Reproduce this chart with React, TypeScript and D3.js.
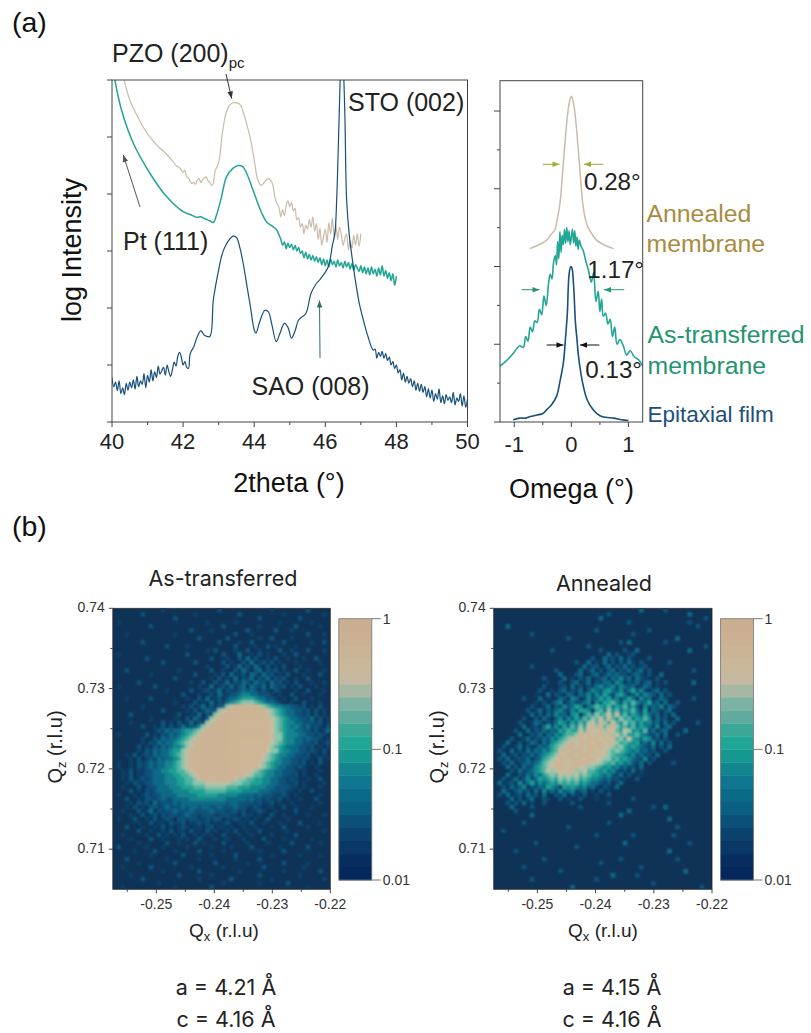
import React, { useEffect, useRef } from "react";
import * as d3 from "d3";

// 2theta scans, y is in arbitrary log units (one unit per y tick)
const annealedX = [40.34,40.5,40.7,40.9,41.1,41.3,41.5,41.7,41.8,41.9,42.0,42.05,42.1,42.15,42.2,42.25,42.3,42.35,42.4,42.45,42.5,42.55,42.6,42.65,42.7,42.75,42.8,42.85,42.9,43.0,43.1,43.2,43.3,43.4,43.5,43.6,43.7,43.8,43.9,44.0,44.1,44.2,44.3,44.4,44.5,44.6,44.7,44.75,44.8,44.85,44.9,44.95,45.0,45.05,45.1,45.15,45.2,45.25,45.3,45.35,45.4,45.45,45.5,45.55,45.6,45.65,45.7,45.75,45.8,45.85,45.9,45.95,46.0,46.05,46.1,46.15,46.2,46.25,46.3,46.35,46.4,46.45,46.5,46.55,46.6,46.65,46.7,46.75,46.8,46.85,46.9,46.95,47.0];
const annealedY = [6.0,5.65,5.38,5.15,4.97,4.83,4.72,4.58,4.5,4.46,4.38,4.42,4.3,4.28,4.22,4.18,4.21,4.17,4.24,4.27,4.2,4.25,4.28,4.3,4.23,4.2,4.15,4.19,4.4,4.55,5.05,5.4,5.55,5.6,5.6,5.57,5.42,5.2,4.95,4.6,4.25,4.15,4.22,4.27,4.2,3.9,3.75,3.6,3.72,3.62,3.8,3.88,3.78,3.85,3.7,3.75,3.55,3.58,3.42,3.48,3.3,3.45,3.38,3.55,3.42,3.6,3.35,3.48,3.2,3.4,3.1,3.25,3.38,3.15,3.5,3.3,3.58,3.22,3.45,3.2,3.42,3.3,3.1,3.22,3.3,3.02,3.18,3.05,3.28,3.1,3.3,3.08,3.3];

const transferredX = [40.08,40.27,40.6,41.07,41.54,42.0,42.2,42.38,42.5,42.6,42.75,42.85,42.94,43.08,43.22,43.4,43.55,43.68,43.79,43.92,44.07,44.2,44.35,44.5,44.63,44.7,44.75,44.8,44.85,44.9,44.95,45.0,45.05,45.1,45.15,45.2,45.25,45.3,45.35,45.4,45.45,45.5,45.55,45.6,45.65,45.7,45.75,45.8,45.85,45.9,45.95,46.0,46.05,46.1,46.15,46.2,46.25,46.3,46.35,46.4,46.45,46.5,46.55,46.6,46.65,46.7,46.75,46.8,46.85,46.9,46.95,47.0,47.05,47.1,47.15,47.2,47.25,47.3,47.35,47.4,47.45,47.5,47.55,47.6,47.65,47.7,47.75,47.8,47.85,47.9,47.95,48.0];
const transferredY = [6.0,5.47,4.89,4.36,3.95,3.69,3.64,3.59,3.6,3.57,3.53,3.5,3.63,3.95,4.3,4.45,4.5,4.48,4.36,4.15,3.89,3.68,3.51,3.44,3.37,3.28,3.2,3.1,3.16,3.04,3.14,3.06,3.12,3.02,3.1,3.0,3.06,2.96,3.0,2.88,2.98,2.86,2.94,2.84,2.92,2.82,2.9,2.8,2.88,2.76,2.86,2.74,2.84,2.72,2.86,2.76,2.82,2.72,2.84,2.74,2.8,2.7,2.82,2.72,2.8,2.68,2.78,2.66,2.76,2.7,2.64,2.74,2.62,2.72,2.6,2.7,2.58,2.72,2.6,2.68,2.56,2.7,2.58,2.74,2.56,2.66,2.52,2.62,2.48,2.6,2.4,2.56];

const epitaxialX = [40,40.05,40.1,40.15,40.2,40.25,40.3,40.35,40.4,40.45,40.5,40.55,40.6,40.65,40.7,40.75,40.8,40.85,40.9,40.95,41,41.05,41.1,41.15,41.2,41.25,41.3,41.35,41.4,41.45,41.5,41.55,41.6,41.65,41.7,41.75,41.8,41.85,41.9,41.95,42,42.05,42.1,42.15,42.2,42.3,42.4,42.5,42.6,42.75,42.85,43,43.1,43.2,43.3,43.4,43.5,43.6,43.7,43.8,43.9,44,44.05,44.15,44.3,44.4,44.5,44.62,44.72,44.85,44.95,45.05,45.15,45.25,45.45,45.6,45.75,45.85,46.08,46.2,46.27,46.32,46.36,46.4,46.43,46.47,46.51,46.55,46.6,46.67,46.75,46.83,46.95,47.07,47.2,47.35,47.4,47.45,47.5,47.55,47.6,47.65,47.7,47.75,47.8,47.85,47.9,47.95,48,48.05,48.1,48.15,48.2,48.25,48.3,48.35,48.4,48.45,48.5,48.55,48.6,48.65,48.7,48.75,48.8,48.85,48.9,48.95,49,49.05,49.1,49.15,49.2,49.25,49.3,49.35,49.4,49.45,49.5,49.55,49.6,49.65,49.7,49.75,49.8,49.85,49.9,49.95,50];
const epitaxialY = [0.78,0.62,0.7,0.55,0.72,0.5,0.6,0.48,0.68,0.56,0.7,0.6,0.74,0.58,0.8,0.62,0.72,0.66,0.85,0.6,0.82,0.7,0.92,0.72,0.88,0.78,0.98,0.84,0.9,0.96,0.82,1.0,0.88,0.8,0.92,1.05,0.98,1.15,1.22,1.14,1.0,1.06,0.96,0.94,1.2,1.32,1.5,1.6,1.52,1.5,2.14,2.67,2.95,3.1,3.2,3.26,3.24,3.05,2.75,2.37,2.0,1.62,1.56,1.75,1.96,1.93,1.7,1.41,1.55,1.73,1.66,1.47,1.6,1.79,1.9,2.26,2.43,2.5,2.72,3.1,3.31,3.9,4.7,5.6,6.2,6.6,6.2,5.4,3.9,3.31,2.9,2.55,2.1,1.79,1.5,1.26,1.28,1.12,1.22,1.15,1.24,1.12,1.2,1.08,1.14,1.0,1.06,0.94,1.0,0.86,0.92,0.74,0.86,0.7,0.8,0.68,0.76,0.62,0.72,0.56,0.68,0.54,0.66,0.52,0.62,0.44,0.58,0.42,0.56,0.36,0.5,0.4,0.58,0.34,0.46,0.32,0.48,0.38,0.44,0.34,0.52,0.3,0.42,0.36,0.5,0.28,0.46,0.26,0.4,0.16];

// Rocking curves, y in arbitrary log units
const omegaAnnealedX = [-0.73,-0.6,-0.43,-0.36,-0.29,-0.25,-0.2,-0.14,-0.07,-0.03,0,0.03,0.07,0.14,0.2,0.25,0.3,0.36,0.44,0.6,0.74];
const omegaAnnealedY = [2.23,2.27,2.34,2.41,2.47,2.6,2.81,3.33,3.93,4.13,4.19,4.13,3.93,3.33,2.81,2.6,2.49,2.42,2.34,2.27,2.23];

const omegaTransferredX = [-1.25,-1.15,-1.02,-0.96,-0.9,-0.84,-0.8,-0.76,-0.72,-0.68,-0.64,-0.6,-0.56,-0.52,-0.48,-0.44,-0.4,-0.37,-0.34,-0.31,-0.28,-0.26,-0.24,-0.22,-0.2,-0.18,-0.16,-0.14,-0.12,-0.1,-0.08,-0.06,-0.04,-0.02,0,0.02,0.04,0.06,0.08,0.1,0.12,0.14,0.17,0.21,0.25,0.3,0.35,0.39,0.43,0.47,0.5,0.53,0.56,0.6,0.64,0.68,0.72,0.76,0.8,0.85,0.91,0.97,1.03,1.1,1.18,1.25];
const omegaTransferredY = [0.72,0.78,0.88,0.94,0.98,0.96,1.1,1.04,1.22,1.16,1.3,1.28,1.45,1.38,1.62,1.5,1.78,1.9,1.84,2.06,2.14,2.02,2.32,2.1,2.45,2.18,2.4,2.28,2.48,2.3,2.5,2.32,2.46,2.28,2.38,2.48,2.3,2.46,2.26,2.38,2.22,2.34,2.26,2.2,2.08,1.95,1.8,1.92,1.55,1.68,1.42,1.58,1.36,1.4,1.26,1.32,1.1,1.22,1.0,1.06,0.98,0.86,0.92,0.84,0.8,0.72];

const omegaEpitaxialX = [-1.02,-0.9,-0.8,-0.72,-0.6,-0.5,-0.43,-0.35,-0.26,-0.2,-0.14,-0.1,-0.07,-0.04,-0.01,0.01,0.04,0.07,0.1,0.12,0.16,0.21,0.28,0.39,0.5,0.6,0.74,0.88,1];
const omegaEpitaxialY = [0.03,0.05,0.05,0.07,0.09,0.11,0.16,0.22,0.33,0.52,0.76,1.1,1.4,1.9,2.0,1.98,1.75,1.3,1.05,0.88,0.66,0.46,0.28,0.15,0.08,0.06,0.05,0.03,0.02];

// Colour bar bands, bottom to top, and the cell colours for the maps
const barBands = ["#04275c","#072d60","#093766","#0a426d","#0b5078","#0b5f82","#0c6a89","#0e768e","#12858f","#179791","#1fa695","#3aa797","#5fac9f","#7bb2a4","#a6b8a4","#c6b99f","#c9b79a","#cab496","#cab193","#c9ae90"];
const cellColors = ["#0f3356","#0e4169","#0d5279","#0e6a87","#12848e","#1ba195","#4fb4a2","#8cc4ad","#c2c0a3","#cdb596"];

const xTicksMap = [-0.25,-0.24,-0.23,-0.22];
const xMinorMap = [-0.255,-0.245,-0.235,-0.225];
const yTicksMap = [0.74,0.73,0.72,0.71];
const yMinorMap = [0.735,0.725,0.715];

// Log intensity per cell, 0 to 9
const transferredMap = [
  "000000000000100000000000002000000000000100000000200000",
  "000000020000000000001000000000020000000000100000000010",
  "000000000000000200000000000000000000200000000020000000",
  "010000000000000000000001000000100000000001000000010000",
  "000000000200000000000000000200000000100000000200000100",
  "000000000000000000020000100000000200000020001000000000",
  "000100000000000100000000000000200010000000000000200010",
  "000000000000000000000200000020000000100200001000000000",
  "000000020000000000000000002000010020000000200000010020",
  "000000000000020000100000000000200001002010000100000000",
  "000000000000000000000001020000100200100002001000200010",
  "010000000000000000200000000200030010201000100200000000",
  "000000002000000000000000200010020302001020010001002000",
  "000000000000200000002000000201002030120201000100000100",
  "000000000000000000000001000020130203102010200010000000",
  "000200000000000010000000200100203102302120100200100010",
  "000000000100000000002000010203012032031201020001000200",
  "000000000000000200000000102010302130213021200100200000",
  "000000200000000000010020020130213203220312010200010010",
  "010000000020000000000100301203023032130321201020001000",
  "000000000000010000020012013021123232121021000100200010",
  "000000000000000002000100203112234433222101002001000100",
  "000100000200000000100203012023345554332210100200010000",
  "000000000000000100002010302134567776543321001002000100",
  "000000010000000001020130212378999999876544332212010200",
  "000000000000200000102013227899999999998765433221202010",
  "000020000000000020010302178999999999998765433221202010",
  "000000000100000100203102789999999999999876543322130201",
  "000010000000201020130217899999999999999876544332221201",
  "000000020010202013122478999999999999999876543432312102",
  "000000000012132334556789999999999999999876544332212013",
  "010000002010213234567899999999999999999877544433221210",
  "000000010021323345678999999999999999999877544332322101",
  "000000010213233456789999999999999999999876544332212012",
  "000000201021323445789999999999999999998765433322120101",
  "000000102132334557899999999999999999998775443322121020",
  "000102012132334567899999999999999999987654433221201010",
  "000010201213233457899999999999999999987654332212100201",
  "010010212323344567899999999999999999876544332212010200",
  "010010212323344567899999999999999999876543322121001000",
  "001020112233445566789999999999999987654433222101000100",
  "001020112233344556678999999999999876654433221201001000",
  "001020121233344455667899999999877665544332212100100200",
  "000102112233344455667778888887776655544332211201000010",
  "001000201223334445556667777766655544443322221101000100",
  "000020102123333444455556666655554444333222211010020000",
  "010001012122333344444555554444433332322211210100000100",
  "000200102212322333344444444433333232212112010010002000",
  "000010212031222323333333333323322221211201001000000100",
  "000102010221232223233233223222322112101100200100010000",
  "001000201302122322232222322212212011210010000200000000",
  "000010020120212212322122211221102110100200100000100010",
  "010002001020121022122112122011210101002000010000000000",
  "000000100201102112011212010120011020010001000020000100",
  "000200010010201012101101201101001001000100200000100000",
  "000000200100102011020102010010200100200000010000000010",
  "001000001002010102001010100200010010000100000200000000",
  "000010000200100010100200010010001000020000100000010000",
  "000000100000020010002010000200000100001000002000000100",
  "020000001000100000100000100001000020000001000000200000",
  "000001000020000100000200000100000000100000200000000000",
  "000000000100000002000000100000200000000100000010000100",
  "000200000000010000000100000000100000200000000000000000",
  "000000100000000200000000020000000100000000200000100000",
  "001000000200000000010000000100000000020000000001000000",
  "000000000000100000000200000000010000000000100000000200",
  "000010000000000020000000100000000000200000000010000000",
  "000000020000000000000100000002000000000100000000000010",
  "000000000001000000000000000100000000100000020000000000",
  "001000000000000100000000200000000000000000000000100000",
];

const annealedMap = [
  "000000000000000000000000000000000000300000200000000000",
  "000000000000000000000000000020000000000000000000300000",
  "000000000000000000000000003000000000000000000000000020",
  "000000000000000000000000000000000200000000000000200000",
  "000300000000000000000000000000000000000000000000002000",
  "000000000000000000000000020000000000002000000000000000",
  "000000000200000000000000000000000020000000000000000000",
  "000000000000000000200000000000000000000000000300000000",
  "000000000000000000000000000000020300000000200000000000",
  "000000000000000000000002000000000000000000000000000020",
  "000000000000002000000000002000002003000000000000300000",
  "000000000000000000000000000030200120000000000000000000",
  "000000000000000000000000200312030200002000000000000000",
  "000000000000000000002003010302020310200000020000000000",
  "000000000200000000000030220130213020120000000000000000",
  "000000000000000200000301302023021302302000000000020000",
  "000000000000000030002300230132312023102003000000000000",
  "000000000000200003010213012303241303210020000000000000",
  "000000000000010020023013021330430213023010200000030000",
  "000000000000200012030202134234143230132010000000000000",
  "000000000002001023021302432453241352410230200000000000",
  "000000000010030210320324142531453024143203020000000000",
  "000000020003010032043014235352413530423013200000020000",
  "000000000010201340231234042556425364235130300200000000",
  "000000000200130214235403465463546352041324032000000000",
  "000000002013021342142554056374635463150320230000000000",
  "000000000302031423045036475685846354253130203000000000",
  "000000020020310241425364768596475635464031200300000000",
  "000000200132021354253647869758647563534230302000002000",
  "000000030120352415364758979689756463543140230000000000",
  "000002003021313254655869889798658745361302300003000000",
  "000000300213032435667989899897867456432130300200000000",
  "000020013021324356788989998989675854354120200000000000",
  "000300201320324567898999899898756545231403020000000000",
  "002001302013235678998989999887675454321302030000000000",
  "020030203132435689899989989876765434231200200000000000",
  "003012021313456798998999898876554342312030000000000000",
  "020301213023567899899989988775645432140200000000000000",
  "002030123234678998989999887656453421302000002000000000",
  "000302031245678999899887765453423120300000000000000000",
  "000020312345687898987786654534212030100000000000000000",
  "000300213243567687878676554342130200100000000000000000",
  "002013024135456576767565443231201002000000000000000000",
  "030120413524345465656454332120130000000000000000000000",
  "002031240213254305454342310210300000000000000000000000",
  "003102312030413142341230102010000000000000000000000000",
  "020301203120300213021020010020000000000000000000000000",
  "000030201300210020100200010000000020000000000000000000",
  "000202030100200000020000000020000000000000000000000000",
  "000030000200000000000200000000000000000200300000000000",
  "000002000000000000000000000000000300000000000000000000",
  "000000000300000000000000000000030000000000000000000000",
  "000000000000000000000000000000000000000000030000000000",
  "000000020000000000000000000020000000000000000000000000",
  "000000000000000000200000000000000000000000000200000000",
  "002000000000000000000000000000000000000000000000000000",
  "000000000000000000000000020000000020000000002000000000",
  "000000000000000000000000000000000000000000000000000000",
  "000000000020000000000000000000003000000000000000200000",
  "000000000000000000002000000000000000000000000000000000",
  "000002000000000000000000000000000000000000030000000000",
  "000000000000000000000000000000000000000000000000000000",
  "000000000000200000000000000000020000000000000200000000",
  "000000000000000000000000002000000000000000000000000000",
  "000000020000000000000000000000000000200000000000000000",
  "000000000000000020000000000000000000000000000003000000",
  "000000000000000000000000000003000002000000000000000000",
  "000000000200000000000000020000000000000000000000000000",
  "000000000000000000000000000000000000000200000000000000",
  "000000000000000000030000000000000000000000000000000200",
];

const SANS = "'Liberation Sans', Arial, sans-serif";
const INTER = "Inter, sans-serif";
const AXIS = "#444";
const TAN = "#c9bca8";
const TEAL = "#22a594";
const NAVY = "#17507a";

function drawText(svg: any, s: string, x: number, y: number, size: number, opts: any = {}) {
  return svg.append("text").attr("x", x).attr("y", y).attr("font-size", size)
    .attr("font-family", opts.family || SANS).attr("fill", opts.fill || "#222")
    .attr("text-anchor", opts.anchor || "start").text(s);
}

function arrow(svg: any, x1: number, y1: number, x2: number, y2: number, color: string) {
  svg.append("line").attr("x1", x1).attr("y1", y1).attr("x2", x2).attr("y2", y2)
    .attr("stroke", color).attr("stroke-width", 1);
  const a = Math.atan2(y2 - y1, x2 - x1), len = 7, w = 2.8;
  const pts = [[x2, y2],
    [x2 - len * Math.cos(a) + w * Math.sin(a), y2 - len * Math.sin(a) - w * Math.cos(a)],
    [x2 - len * Math.cos(a) - w * Math.sin(a), y2 - len * Math.sin(a) + w * Math.cos(a)]];
  svg.append("polygon").attr("points", pts.join(" ")).attr("fill", color);
}

function tickLines(g: any, vals: number[], fn: (v: number) => number, len: number, vertical: boolean) {
  vals.forEach((v) => {
    const l = g.append("line").attr("stroke", AXIS).attr("stroke-width", 1);
    if (vertical) l.attr("x1", fn(v)).attr("x2", fn(v)).attr("y1", 0).attr("y2", len);
    else l.attr("y1", fn(v)).attr("y2", fn(v)).attr("x1", 0).attr("x2", -len);
  });
}

function pairs(xs: number[], ys: number[]) {
  return xs.map((x, i) => [x, ys[i]] as [number, number]);
}

function drawMap(svg: any, id: string, rows: string[], left: number, top: number, right: number, bottom: number) {
  const xDomain: [number, number] = [-0.2575, -0.22];
  const yDomain: [number, number] = [0.705, 0.74];
  const xScale = d3.scaleLinear().domain(xDomain).range([left, right]);
  const yScale = d3.scaleLinear().domain(yDomain).range([bottom, top]);
  const color = d3.scaleOrdinal<number, string>().domain(d3.range(10)).range(cellColors);
  const nCols = rows[0].length, nRows = rows.length;
  const dx = (xDomain[1] - xDomain[0]) / nCols, dy = (yDomain[1] - yDomain[0]) / nRows;

  svg.append("clipPath").attr("id", "clip-" + id).append("rect")
    .attr("x", left).attr("y", top).attr("width", right - left).attr("height", bottom - top);
  svg.append("filter").attr("id", "soft-" + id).attr("x", "-5%").attr("y", "-5%").attr("width", "110%").attr("height", "110%")
    .append("feGaussianBlur").attr("stdDeviation", 1);

  const outer = svg.append("g").attr("clip-path", `url(#clip-${id})`);
  outer.append("rect").attr("x", left).attr("y", top).attr("width", right - left).attr("height", bottom - top).attr("fill", cellColors[0]);
  const cells = outer.append("g").attr("filter", `url(#soft-${id})`);
  // low values first so the brighter cells sit on top of the overlap
  d3.range(1, 10).forEach((level) => {
    rows.forEach((row, r) => {
      row.split("").forEach((c, i) => {
        if (+c !== level) return;
        const x0 = xScale(xDomain[0] + i * dx), x1 = xScale(xDomain[0] + (i + 1) * dx);
        const y0 = yScale(yDomain[1] - r * dy), y1 = yScale(yDomain[1] - (r + 1) * dy);
        cells.append("rect").attr("x", x0 - 0.3).attr("y", y0 - 0.3).attr("width", x1 - x0 + 0.6).attr("height", y1 - y0 + 0.6).attr("fill", color(level));
      });
    });
  });

  svg.append("rect").attr("x", left).attr("y", top).attr("width", right - left).attr("height", bottom - top)
    .attr("fill", "none").attr("stroke", "#222").attr("stroke-width", 0.8);

  const gx = svg.append("g").attr("transform", `translate(0,${bottom})`);
  tickLines(gx, xTicksMap, xScale, 4, true);
  tickLines(gx, xMinorMap, xScale, 2.5, true);
  const gy = svg.append("g").attr("transform", `translate(${left},0)`);
  tickLines(gy, yTicksMap, yScale, 4, false);
  tickLines(gy, yMinorMap, yScale, 2.5, false);

  xTicksMap.forEach((t) => drawText(svg, t.toFixed(2), xScale(t), bottom + 20, 14, { anchor: "middle", fill: "#333" }));
  yTicksMap.forEach((t) => drawText(svg, t.toFixed(2), left - 8, yScale(t) + 4, 14, { anchor: "end", fill: "#333" }));

  // log colour bar
  const barLeft = right + 8.5, barRight = barLeft + 33, barTop = 618.7, barBottom = 880;
  const barScale = d3.scaleLog().domain([0.01, 1]).range([barBottom, barTop]);
  const step = Math.pow(100, 1 / barBands.length);
  barBands.forEach((b, i) => {
    const lo = 0.01 * Math.pow(step, i), hi = lo * step;
    svg.append("rect").attr("x", barLeft).attr("width", barRight - barLeft)
      .attr("y", barScale(hi)).attr("height", barScale(lo) - barScale(hi) + 0.4).attr("fill", b);
  });
  svg.append("rect").attr("x", barLeft).attr("y", barTop).attr("width", barRight - barLeft).attr("height", barBottom - barTop)
    .attr("fill", "none").attr("stroke", "#777").attr("stroke-width", 0.8);
  [[1, "1"], [0.1, "0.1"], [0.01, "0.01"]].forEach(([v, s]: any) => {
    svg.append("line").attr("x1", barRight).attr("x2", barRight + 9).attr("y1", barScale(v)).attr("y2", barScale(v)).attr("stroke", "#777");
    drawText(svg, s, barRight + 11, barScale(v) + 5, 14, { fill: "#333" });
  });
}

function drawQLabel(svg: any, sub: string, x: number, y: number, rotate: boolean) {
  const t = svg.append("text").attr("font-size", rotate ? 20 : 19).attr("font-family", SANS).attr("fill", "#222").attr("text-anchor", "middle");
  if (rotate) t.attr("transform", `translate(${x},${y}) rotate(-90)`);
  else t.attr("x", x).attr("y", y);
  t.append("tspan").text("Q");
  t.append("tspan").attr("font-size", 13).attr("dy", 4).text(sub);
  t.append("tspan").attr("dy", -4).text(" (r.l.u)");
}

export default function App() {
  const ref = useRef<SVGSVGElement | null>(null);

  useEffect(() => {
    const svg = d3.select(ref.current);
    svg.selectAll("*").remove();

    // ---- 2theta panel
    const x = d3.scaleLinear().domain([40, 50]).range([112, 467.5]);
    const y = d3.scaleLinear().domain([0, 6]).range([422, 80]);
    svg.append("clipPath").attr("id", "clip-scan").append("rect").attr("x", 112).attr("y", 80).attr("width", 355.5).attr("height", 342);
    const line = d3.line<[number, number]>().x((d) => x(d[0])).y((d) => y(d[1])).curve(d3.curveCatmullRom.alpha(0.5));
    const scan = svg.append("g").attr("clip-path", "url(#clip-scan)").attr("fill", "none").attr("stroke-linejoin", "round");
    scan.append("path").attr("d", line(pairs(annealedX, annealedY))).attr("stroke", TAN).attr("stroke-width", 1.2);
    scan.append("path").attr("d", line(pairs(transferredX, transferredY))).attr("stroke", TEAL).attr("stroke-width", 1.5);
    scan.append("path").attr("d", line(pairs(epitaxialX, epitaxialY))).attr("stroke", NAVY).attr("stroke-width", 1.2);

    svg.append("rect").attr("x", 112).attr("y", 80).attr("width", 355.5).attr("height", 342).attr("fill", "none").attr("stroke", AXIS).attr("stroke-width", 1);
    const gx = svg.append("g").attr("transform", "translate(0,422)");
    tickLines(gx, d3.range(40, 51, 2), x, 5, true);
    tickLines(gx, d3.range(41, 50, 2), x, 3, true);
    const gy = svg.append("g").attr("transform", "translate(112,0)");
    tickLines(gy, d3.range(0, 7), y, 5, false);
    d3.range(40, 51, 2).forEach((t) => drawText(svg, String(t), x(t), 449, 22, { anchor: "middle" }));
    drawText(svg, "2theta (°)", 289, 492, 27, { anchor: "middle", fill: "#111" });
    svg.append("text").attr("transform", "translate(81,250) rotate(-90)").attr("text-anchor", "middle")
      .attr("font-size", 27).attr("font-family", SANS).attr("fill", "#111").text("log Intensity");

    drawText(svg, "(a)", 12, 32, 28.5, { fill: "#111" });
    const pzo = drawText(svg, "PZO (200)", 112, 62, 25);
    pzo.append("tspan").attr("font-size", 15).attr("dy", 6).text("pc");
    drawText(svg, "STO (002)", 348, 111, 25);
    drawText(svg, "Pt (111)", 123, 250, 25);
    drawText(svg, "SAO (008)", 251.5, 395, 25);
    arrow(svg, 226, 74, 231.7, 98.5, "#333");
    arrow(svg, 140, 207, 123.3, 155, "#555");
    arrow(svg, 320, 358, 319.5, 300.5, "#2f6f6a");

    // ---- Omega panel
    const ox = d3.scaleLinear().domain([-1.25, 1.25]).range([500, 642.7]);
    const oy = d3.scaleLinear().domain([0, 4.39]).range([422, 80.7]);
    const oline = d3.line<[number, number]>().x((d) => ox(d[0])).y((d) => oy(d[1])).curve(d3.curveCatmullRom.alpha(0.5));
    svg.append("clipPath").attr("id", "clip-omega").append("rect").attr("x", 500).attr("y", 80.7).attr("width", 142.7).attr("height", 341.3);
    const om = svg.append("g").attr("clip-path", "url(#clip-omega)").attr("fill", "none").attr("stroke-linejoin", "round");
    om.append("path").attr("d", oline(pairs(omegaAnnealedX, omegaAnnealedY))).attr("stroke", TAN).attr("stroke-width", 1.5);
    om.append("path").attr("d", oline(pairs(omegaTransferredX, omegaTransferredY))).attr("stroke", TEAL).attr("stroke-width", 1.6);
    om.append("path").attr("d", oline(pairs(omegaEpitaxialX, omegaEpitaxialY))).attr("stroke", NAVY).attr("stroke-width", 1.6);
    svg.append("rect").attr("x", 500).attr("y", 80.7).attr("width", 142.7).attr("height", 341.3).attr("fill", "none").attr("stroke", AXIS).attr("stroke-width", 1);
    const ogx = svg.append("g").attr("transform", "translate(0,422)");
    tickLines(ogx, [-1, 0, 1], ox, 5, true);
    tickLines(ogx, [-0.5, 0.5], ox, 3, true);
    const ogy = svg.append("g").attr("transform", "translate(500,0)");
    tickLines(ogy, d3.range(0, 5), oy, 6, false);
    tickLines(ogy, [0.5, 1.5, 2.5, 3.5], oy, 3, false);
    [-1, 0, 1].forEach((t) => drawText(svg, String(t), ox(t), 451.5, 22, { anchor: "middle" }));
    drawText(svg, "Omega (°)", 571.5, 497.5, 27, { anchor: "middle", fill: "#111" });

    arrow(svg, 542.7, 164.3, 559.5, 164.3, "#a8a82a");
    arrow(svg, 603.3, 164.3, 584, 164.3, "#a8a82a");
    arrow(svg, 521.7, 289.7, 539.5, 289.7, "#2d8f77");
    arrow(svg, 624.3, 289.7, 604, 289.7, "#1f9a6f");
    arrow(svg, 546.7, 345, 563.5, 345, "#111");
    arrow(svg, 599.3, 345, 580, 345, "#111");
    drawText(svg, "0.28°", 584, 190, 24.2);
    drawText(svg, "1.17°", 587.3, 278, 24.2);
    drawText(svg, "0.13°", 585.3, 378.3, 24.2);

    drawText(svg, "Annealed", 646.5, 221.5, 24.8, { fill: "#a98b3f" });
    drawText(svg, "membrane", 646.5, 251.5, 24.8, { fill: "#a98b3f" });
    drawText(svg, "As-transferred", 647.5, 343.3, 24.8, { fill: "#23946f" });
    drawText(svg, "membrane", 647.5, 374, 24.8, { fill: "#23946f" });
    drawText(svg, "Epitaxial film", 647.5, 422.3, 22.5, { fill: "#1d4f7c" });

    // ---- Reciprocal space maps
    drawText(svg, "(b)", 12, 536, 28.5, { fill: "#111" });
    drawText(svg, "As-transferred", 223, 586, 21.5, { anchor: "middle", family: INTER });
    drawText(svg, "Annealed", 604, 591, 21.5, { anchor: "middle", family: INTER });

    drawMap(svg, "transferred", transferredMap, 112.8, 608.3, 330.3, 889.3);
    drawMap(svg, "annealed", annealedMap, 493.7, 608.3, 712, 889.3);

    drawQLabel(svg, "z", 62, 747, true);
    drawQLabel(svg, "z", 444, 747, true);
    drawQLabel(svg, "x", 224, 937, false);
    drawQLabel(svg, "x", 603, 937, false);

    const lat = { anchor: "middle", family: INTER };
    drawText(svg, "a = 4.21 Å", 226, 995, 21.5, lat);
    drawText(svg, "c = 4.16 Å", 226, 1027, 21.5, lat);
    drawText(svg, "a = 4.15 Å", 612, 995, 21.5, lat);
    drawText(svg, "c = 4.16 Å", 612, 1027, 21.5, lat);
  }, []);

  return <svg ref={ref} width={811} height={1033} style={{ position: "absolute", left: 0, top: 0, display: "block" }} />;
}
